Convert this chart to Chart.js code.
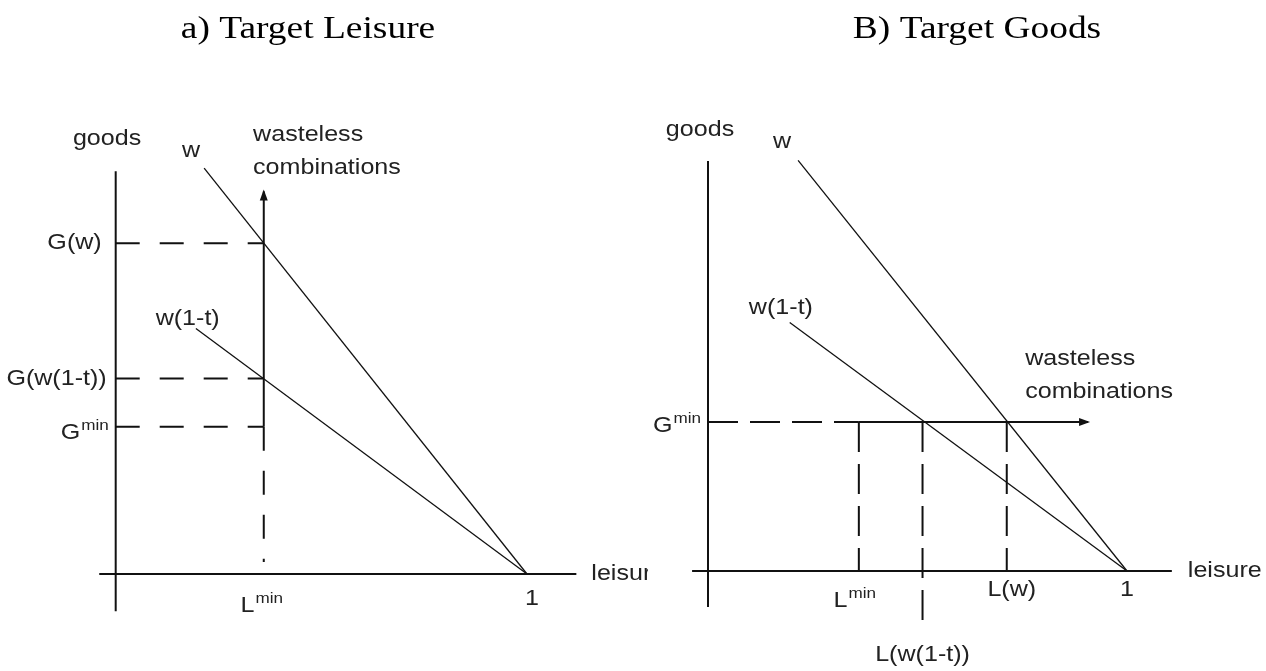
<!DOCTYPE html>
<html><head><meta charset="utf-8">
<script src="https://cdn.jsdelivr.net/npm/chart.js@4/dist/chart.umd.min.js"></script>
<style>
html,body{margin:0;padding:0;background:#fff;width:1266px;height:671px;overflow:hidden}
#a{position:absolute;left:0;top:0}
#b{position:absolute;left:648px;top:0}
</style></head><body>
<canvas id="a" width="648" height="671"></canvas>
<canvas id="b" width="618" height="671"></canvas>
<script>
// ---- values (leisure share 0..1, goods in units of w) ----
const panelTitles   = ['a) Target Leisure', 'B) Target Goods'];
const axisNames     = ['goods', 'leisure'];
const lineNames     = ['w', 'w(1-t)'];
const wastelessText = ['wasteless', 'combinations'];
const yTickTexts    = ['G(w)', 'G(w(1-t))'];
const minBase       = ['G', 'L'];
const minSup        = 'min';
const xTickTextsB   = ['L(w(1-t))', 'L(w)'];
const oneText       = '1';

const lineW    = [[0.215, 0.785], [1, 0]];   // budget line w
const lineNet  = [[0.195, 0.475], [1, 0]];   // budget line w(1-t)
const lMin     = 0.36;
const gMin     = 0.285;
const gW       = 0.64;    // G(w)
const gNet     = 0.378;   // G(w(1-t))
const lW       = 0.713;   // L(w)
const lNet     = 0.512;   // L(w(1-t))
const arrowTopA = 0.74;   // end of vertical arrow, panel a
const arrowEndB = 0.907;  // end of horizontal arrow, panel b
const axisA = {x: [-0.04, 1.12], y: [-0.072, 0.779]};
const axisB = {x: [-0.038, 1.107], y: [-0.069, 0.784]};

// ---- helpers ----
const pts = arr => arr.map(p => ({x: p[0], y: p[1]}));
function seg(data, opts) {
  return Object.assign({data: pts(data), showLine: true, borderColor: '#111', borderWidth: 2,
    pointRadius: 0, fill: false, clip: false, tension: 0}, opts || {});
}
const FONT = '22px "Liberation Sans", Arial, sans-serif';
const SUPFONT = '15px "Liberation Sans", Arial, sans-serif';
const SX = 1.14;

function txt(ctx, s, x, y, font, align, base, sx) {
  ctx.save();
  ctx.font = font; ctx.textBaseline = base; ctx.textAlign = 'left';
  const w = ctx.measureText(s).width * sx;
  const x0 = align === 'center' ? x - w / 2 : align === 'right' ? x - w : x;
  ctx.translate(x0, y); ctx.scale(sx, 1); ctx.fillText(s, 0, 0);
  ctx.restore();
  return w;
}
function supTxt(ctx, main, sup, x, y, align) {
  ctx.save();
  ctx.font = FONT; const w1 = ctx.measureText(main).width * SX;
  ctx.font = SUPFONT; const w2 = ctx.measureText(sup).width * SX;
  ctx.restore();
  const tot = w1 + w2 + 1;
  const x0 = align === 'center' ? x - tot / 2 : align === 'right' ? x - tot : x;
  txt(ctx, main, x0, y, FONT, 'left', 'alphabetic', SX);
  txt(ctx, sup, x0 + w1 + 1, y - 9, SUPFONT, 'left', 'alphabetic', SX);
}

const annot = {
  id: 'annot',
  afterDatasetsDraw(chart, args, o) {
    const ctx = chart.ctx, xs = chart.scales.x, ys = chart.scales.y;
    // arrowheads
    chart.data.datasets.forEach(ds => {
      if (!ds.arrow) return;
      const n = ds.data.length;
      const p1 = ds.data[n - 2], p2 = ds.data[n - 1];
      const x1 = xs.getPixelForValue(p1.x), y1 = ys.getPixelForValue(p1.y);
      const x2 = xs.getPixelForValue(p2.x), y2 = ys.getPixelForValue(p2.y);
      const a = Math.atan2(y2 - y1, x2 - x1), L = 9, H = 4;
      ctx.save(); ctx.fillStyle = '#111'; ctx.beginPath();
      ctx.moveTo(x2 + Math.cos(a) * 2, y2 + Math.sin(a) * 2);
      ctx.lineTo(x2 - Math.cos(a) * L - Math.sin(a) * H, y2 - Math.sin(a) * L + Math.cos(a) * H);
      ctx.lineTo(x2 - Math.cos(a) * L + Math.sin(a) * H, y2 - Math.sin(a) * L - Math.cos(a) * H);
      ctx.closePath(); ctx.fill(); ctx.restore();
    });
    ctx.save(); ctx.fillStyle = '#222';
    o.labels.forEach(l => {
      const x = xs.getPixelForValue(l.at[0]) + (l.dx || 0);
      const y = ys.getPixelForValue(l.at[1]) + (l.dy || 0);
      if (l.sup) supTxt(ctx, l.text, l.sup, x, y, l.align);
      else txt(ctx, l.text, x, y, FONT, l.align || 'center', 'middle', SX);
    });
    ctx.fillStyle = '#000';
    txt(ctx, o.title, o.titleX, 38, '32px "Liberation Serif", "Times New Roman", serif', 'center', 'alphabetic', 1.17);
    ctx.restore();
  }
};

function makeChart(id, datasets, xr, yr, labels, title, titleX) {
  return new Chart(document.getElementById(id), {
    type: 'scatter',
    data: {datasets},
    options: {
      responsive: false, animation: false, events: [],
      layout: {padding: 0},
      plugins: {legend: {display: false}, tooltip: {enabled: false}, title: {display: false},
        annot: {labels, title, titleX}},
      scales: {
        x: {type: 'linear', display: false, min: xr[0], max: xr[1]},
        y: {type: 'linear', display: false, min: yr[0], max: yr[1]}
      }
    },
    plugins: [annot]
  });
}

// ---- panel a: target leisure ----
const dashA = [24, 20];
makeChart('a', [
  seg([[0, axisA.y[0]], [0, axisA.y[1]]]),
  seg([[axisA.x[0], 0], [axisA.x[1], 0]]),
  seg(lineW, {borderWidth: 1.3}),
  seg(lineNet, {borderWidth: 1.3}),
  seg([[0, gW], [lMin, gW]], {borderDash: dashA}),
  seg([[0, gNet], [lMin, gNet]], {borderDash: dashA}),
  seg([[0, gMin], [lMin, gMin]], {borderDash: dashA}),
  seg([[lMin, gMin], [lMin, 0.023]], {borderDash: dashA}),
  seg([[lMin, gMin], [lMin, arrowTopA]], {arrow: true})
], [-0.2813, 1.2942], [-0.1876, 1.1103], [
  {text: axisNames[0], at: [-0.021, 0.841]},
  {text: lineNames[0], at: [0.183, 0.818]},
  {text: lineNames[1], at: [0.175, 0.493]},
  {text: wastelessText[0], at: [0.334, 0.849], align: 'left'},
  {text: wastelessText[1], at: [0.334, 0.785], align: 'left'},
  {text: yTickTexts[0], at: [0, gW], dx: -14, align: 'right'},
  {text: yTickTexts[1], at: [0, gNet], dx: -9, align: 'right'},
  {text: minBase[0], sup: minSup, at: [0, gMin], dx: -7, dy: 12, align: 'right'},
  {text: minBase[1], sup: minSup, at: [lMin, 0], dx: -2, dy: 38, align: 'center'},
  {text: oneText, at: [1, 0], dx: 5, dy: 25},
  {text: axisNames[1], at: [axisA.x[1], 0], dx: 15, align: 'left'}
], panelTitles[0], 308);

// ---- panel b: target goods ----
const dashB = [30, 12];
makeChart('b', [
  seg([[0, axisB.y[0]], [0, axisB.y[1]]]),
  seg([[axisB.x[0], 0], [axisB.x[1], 0]]),
  seg(lineW, {borderWidth: 1.3}),
  seg(lineNet, {borderWidth: 1.3}),
  seg([[0, gMin], [lMin, gMin]], {borderDash: dashB}),
  seg([[lMin, gMin], [lMin, 0]], {borderDash: dashB}),
  seg([[lNet, gMin], [lNet, -0.107]], {borderDash: dashB}),
  seg([[lW, gMin], [lW, 0]], {borderDash: dashB}),
  seg([[lMin, gMin], [arrowEndB, gMin]], {arrow: true})
], [-0.1432, 1.3317], [-0.1912, 1.0918], [
  {text: axisNames[0], at: [-0.019, 0.843]},
  {text: lineNames[0], at: [0.177, 0.820]},
  {text: lineNames[1], at: [0.174, 0.503]},
  {text: wastelessText[0], at: [0.757, 0.405], align: 'left'},
  {text: wastelessText[1], at: [0.757, 0.342], align: 'left'},
  {text: minBase[0], sup: minSup, at: [0, gMin], dx: -7, dy: 10, align: 'right'},
  {text: minBase[1], sup: minSup, at: [lMin, 0], dx: -4, dy: 36, align: 'center'},
  {text: xTickTextsB[0], at: [lNet, 0], dy: 84},
  {text: xTickTextsB[1], at: [lW, 0], dx: 5, dy: 19},
  {text: oneText, at: [1, 0], dy: 19},
  {text: axisNames[1], at: [axisB.x[1], 0], dx: 16, align: 'left'}
], panelTitles[1], 329);
</script>
</body></html>
